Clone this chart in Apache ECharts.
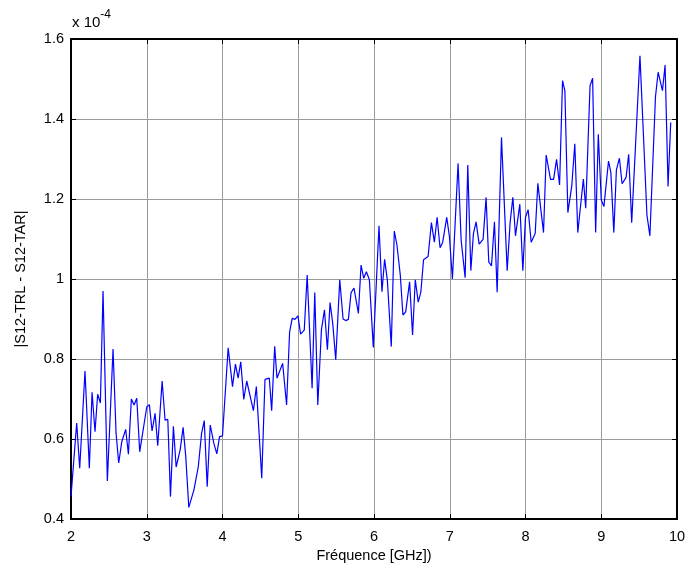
<!DOCTYPE html>
<html>
<head>
<meta charset="utf-8">
<script src="https://cdn.jsdelivr.net/npm/echarts@6/dist/echarts.min.js"></script>
<style>html,body{margin:0;padding:0;background:#fff;}#c{width:689px;height:573px;}</style>
</head>
<body>
<div id="c"></div>
<script>
// Frequency (GHz)
const freq = [2.000,2.075,2.115,2.185,2.242,2.278,2.317,2.352,2.388,2.423,2.480,2.555,2.595,2.630,2.670,2.722,2.758,2.797,2.833,2.868,2.907,3.000,3.035,3.070,3.110,3.145,3.203,3.242,3.278,3.313,3.352,3.388,3.441,3.480,3.515,3.555,3.623,3.680,3.724,3.759,3.798,3.838,3.886,3.925,3.961,4.000,4.075,4.132,4.171,4.206,4.241,4.281,4.320,4.408,4.447,4.518,4.561,4.618,4.649,4.689,4.719,4.794,4.846,4.886,4.921,4.956,4.996,5.031,5.079,5.118,5.183,5.218,5.258,5.306,5.346,5.385,5.420,5.455,5.495,5.548,5.592,5.627,5.662,5.697,5.736,5.794,5.829,5.864,5.899,5.939,5.991,6.066,6.105,6.140,6.176,6.228,6.268,6.303,6.347,6.382,6.418,6.470,6.509,6.545,6.584,6.619,6.654,6.714,6.758,6.797,6.833,6.872,6.907,6.960,6.996,7.035,7.110,7.150,7.203,7.238,7.278,7.313,7.348,7.388,7.440,7.480,7.515,7.551,7.590,7.626,7.683,7.758,7.797,7.833,7.868,7.925,7.965,8.000,8.035,8.075,8.128,8.163,8.238,8.273,8.330,8.371,8.410,8.450,8.489,8.520,8.559,8.611,8.651,8.690,8.764,8.795,8.852,8.886,8.926,8.961,9.000,9.035,9.096,9.127,9.166,9.200,9.240,9.275,9.328,9.362,9.402,9.511,9.603,9.642,9.716,9.751,9.808,9.843,9.882,9.917];
// |S12-TRL - S12-TAR| in units of 1e-4
const diff = [0.456,0.640,0.527,0.770,0.527,0.717,0.618,0.712,0.690,0.970,0.495,0.825,0.614,0.540,0.593,0.624,0.562,0.700,0.685,0.702,0.568,0.680,0.686,0.620,0.664,0.583,0.745,0.647,0.649,0.456,0.632,0.530,0.573,0.629,0.556,0.429,0.473,0.530,0.614,0.646,0.481,0.635,0.589,0.563,0.606,0.608,0.828,0.731,0.787,0.752,0.793,0.699,0.745,0.671,0.731,0.502,0.749,0.752,0.671,0.832,0.752,0.789,0.685,0.868,0.902,0.899,0.908,0.862,0.872,1.010,0.727,0.966,0.685,0.873,0.923,0.823,0.941,0.889,0.798,0.998,0.900,0.896,0.899,0.966,0.977,0.914,1.035,1.002,1.018,0.998,0.829,1.133,0.968,1.049,0.998,0.831,1.120,1.085,1.010,0.910,0.918,0.993,0.860,0.998,0.942,0.968,1.048,1.056,1.141,1.092,1.154,1.078,1.092,1.154,1.106,1.000,1.289,1.098,1.003,1.285,1.021,1.114,1.143,1.087,1.099,1.204,1.043,1.033,1.143,0.967,1.354,1.021,1.141,1.204,1.108,1.187,1.021,1.154,1.173,1.092,1.114,1.239,1.116,1.310,1.249,1.249,1.299,1.235,1.496,1.470,1.166,1.233,1.338,1.116,1.250,1.177,1.483,1.502,1.116,1.362,1.198,1.181,1.295,1.266,1.116,1.273,1.302,1.238,1.254,1.312,1.141,1.558,1.160,1.108,1.456,1.517,1.471,1.535,1.231,1.391];
const xTicks = [2,3,4,5,6,7,8,9,10];
const yTicks = [0.4,0.6,0.8,1,1.2,1.4,1.6];
const xLabel = 'Fréquence [GHz])';
const yLabel = '|S12-TRL - S12-TAR|';
const exponentBase = 'x 10';
const exponentPow = '-4';

const chart = echarts.init(document.getElementById('c'));
const font = 'Liberation Sans, Arial, sans-serif';
const axisBase = {
  axisLine: {show: true, onZero: false, lineStyle: {color: '#000', width: 2}},
  axisTick: {show: true, inside: true, length: 5, lineStyle: {color: '#000', width: 1}},
};
chart.setOption({
  animation: false,
  backgroundColor: '#fff',
  grid: {left: 71, right: 12, top: 39, bottom: 54, show: false},
  xAxis: [
    Object.assign({}, axisBase, {
      type: 'value', min: xTicks[0], max: xTicks[xTicks.length-1], interval: 1,
      position: 'bottom',
      name: xLabel, nameLocation: 'middle', nameGap: 29,
      nameTextStyle: {color: '#000', fontSize: 14.5, fontFamily: font},
      axisLabel: {color: '#000', fontSize: 14.5, fontFamily: font, margin: 10},
      splitLine: {show: true, lineStyle: {color: '#9a9a9a', width: 1}}
    }),
    Object.assign({}, axisBase, {
      type: 'value', min: xTicks[0], max: xTicks[xTicks.length-1], interval: 1,
      position: 'top', axisLabel: {show: false}, splitLine: {show: false}
    })
  ],
  yAxis: [
    Object.assign({}, axisBase, {
      type: 'value', min: yTicks[0], max: yTicks[yTicks.length-1], interval: 0.2,
      position: 'left',
      name: yLabel, nameLocation: 'middle', nameGap: 43,
      nameTextStyle: {color: '#000', fontSize: 14.5, fontFamily: font},
      axisLabel: {color: '#000', fontSize: 14.5, fontFamily: font, margin: 7,
        formatter: v => String(+v.toFixed(1))},
      splitLine: {show: true, lineStyle: {color: '#9a9a9a', width: 1}}
    }),
    Object.assign({}, axisBase, {
      type: 'value', min: yTicks[0], max: yTicks[yTicks.length-1], interval: 0.2,
      position: 'right', axisLabel: {show: false}, splitLine: {show: false}
    })
  ],
  graphic: [{
    type: 'text', left: 72, top: 9,
    style: {
      text: '{b|' + exponentBase + '}{s|' + exponentPow + '}',
      rich: {
        b: {fontSize: 15, fontFamily: font, fill: '#000', padding: [8,0,0,0]},
        s: {fontSize: 12, fontFamily: font, fill: '#000', padding: [0,0,7,0]}
      }
    }
  }],
  series: [{
    type: 'line', xAxisIndex: 0, yAxisIndex: 0,
    data: freq.map((f, i) => [f, diff[i]]),
    showSymbol: false, symbol: 'none',
    lineStyle: {color: '#0000ff', width: 1.2},
    itemStyle: {color: '#0000ff'}
  }]
});
</script>
</body>
</html>
